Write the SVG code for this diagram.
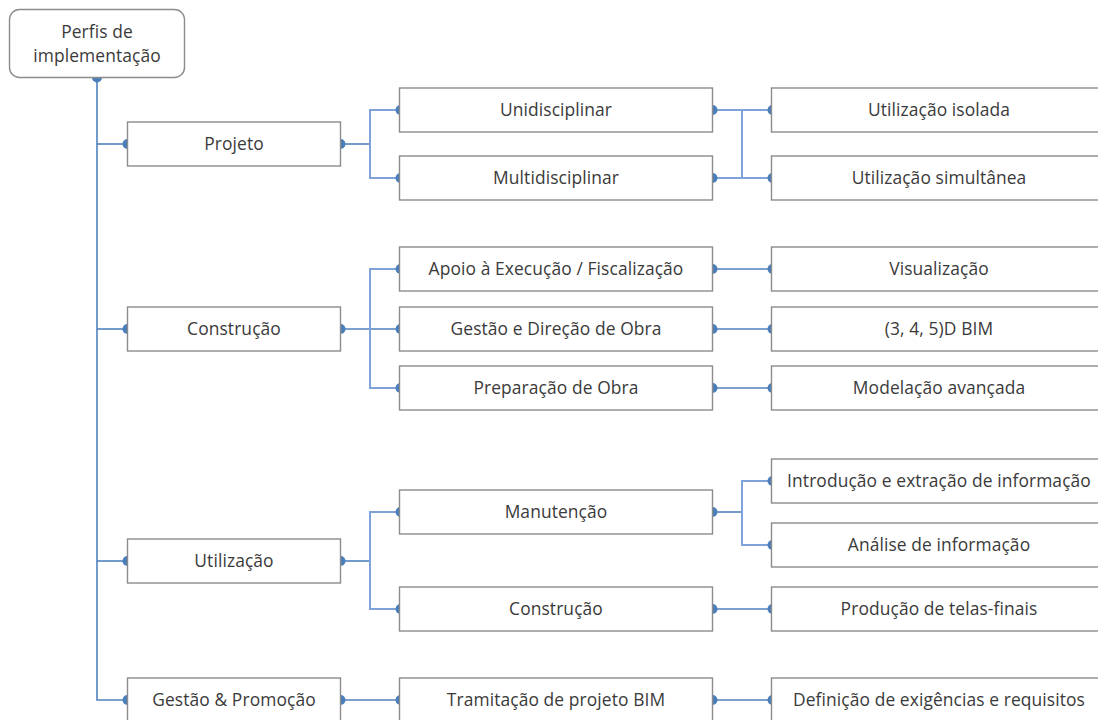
<svg xmlns="http://www.w3.org/2000/svg" width="1098" height="720" viewBox="0 0 1098 720">
<style>
.box{fill:#fff;stroke:#8c8c8c;stroke-width:1.4}
.t{font-family:"Open Sans","Liberation Sans",sans-serif;font-size:17.4px;letter-spacing:0.1px;fill:#3a3a3a;text-anchor:middle}
.stem{stroke:#4f81bd;stroke-width:1.6;fill:none}
.br{stroke:#7fa3d8;stroke-width:2;fill:none}
.dot{fill:#4a7ebb}
</style>
<defs>
<path id="dl" d="M0.5 -5 A5 5 0 0 0 0.5 5 Z"/>
<path id="dr" d="M-0.5 -5 A5 5 0 0 1 -0.5 5 Z"/>
<path id="dd" d="M-5 -0.5 A5 5 0 0 0 5 -0.5 Z"/>
</defs>
<g id="connectors">
<polyline class="stem" points="97,78 97,700 127,700"/>
<line class="stem" x1="97" y1="144" x2="127" y2="144"/>
<line class="stem" x1="97" y1="329" x2="127" y2="329"/>
<line class="stem" x1="97" y1="561" x2="127" y2="561"/>
<line class="stem" x1="341" y1="144" x2="370" y2="144"/>
<polyline class="br" points="400,110 370,110 370,178 400,178"/>
<line class="br" x1="713" y1="110" x2="772" y2="110"/>
<line class="br" x1="713" y1="178" x2="772" y2="178"/>
<line class="br" x1="742" y1="110" x2="742" y2="178"/>
<line class="stem" x1="341" y1="329" x2="400" y2="329"/>
<polyline class="br" points="400,269 370,269 370,388 400,388"/>
<line class="stem" x1="713" y1="269" x2="772" y2="269"/>
<line class="stem" x1="713" y1="329" x2="772" y2="329"/>
<line class="stem" x1="713" y1="388" x2="772" y2="388"/>
<line class="stem" x1="341" y1="561" x2="370" y2="561"/>
<polyline class="br" points="400,512 370,512 370,609 400,609"/>
<line class="stem" x1="713" y1="512" x2="742" y2="512"/>
<polyline class="br" points="772,481 742,481 742,545 772,545"/>
<line class="stem" x1="713" y1="609" x2="772" y2="609"/>
<line class="stem" x1="341" y1="700" x2="400" y2="700"/>
<line class="stem" x1="713" y1="700" x2="772" y2="700"/>
<g class="dot">
<use href="#dd" x="97" y="78"/>
<use href="#dl" x="127" y="144"/><use href="#dl" x="127" y="329"/><use href="#dl" x="127" y="561"/><use href="#dl" x="127" y="700"/>
<use href="#dr" x="341" y="144"/><use href="#dr" x="341" y="329"/><use href="#dr" x="341" y="561"/><use href="#dr" x="341" y="700"/>
<use href="#dl" x="400" y="110"/><use href="#dl" x="400" y="178"/><use href="#dl" x="400" y="269"/><use href="#dl" x="400" y="329"/><use href="#dl" x="400" y="388"/><use href="#dl" x="400" y="512"/><use href="#dl" x="400" y="609"/><use href="#dl" x="400" y="700"/>
<use href="#dr" x="713" y="110"/><use href="#dr" x="713" y="178"/><use href="#dr" x="713" y="269"/><use href="#dr" x="713" y="329"/><use href="#dr" x="713" y="388"/><use href="#dr" x="713" y="512"/><use href="#dr" x="713" y="609"/><use href="#dr" x="713" y="700"/>
<use href="#dl" x="772" y="110"/><use href="#dl" x="772" y="178"/><use href="#dl" x="772" y="269"/><use href="#dl" x="772" y="329"/><use href="#dl" x="772" y="388"/><use href="#dl" x="772" y="481"/><use href="#dl" x="772" y="545"/><use href="#dl" x="772" y="609"/><use href="#dl" x="772" y="700"/>
</g>
</g>
<g id="root"><rect class="box" x="9.5" y="9.5" width="175" height="68" rx="10"/><text class="t" x="97" y="38">Perfis de</text><text class="t" x="97" y="62">implementação</text></g>
<g id="projeto"><rect class="box" x="127.5" y="122" width="213" height="44"/><text class="t" x="234" y="150">Projeto</text></g>
<g id="construcao"><rect class="box" x="127.5" y="307" width="213" height="44"/><text class="t" x="234" y="335">Construção</text></g>
<g id="utilizacao"><rect class="box" x="127.5" y="539" width="213" height="44"/><text class="t" x="234" y="567">Utilização</text></g>
<g id="gestao"><rect class="box" x="127.5" y="678" width="213" height="44"/><text class="t" x="234" y="706">Gestão &amp; Promoção</text></g>
<g id="unidisciplinar"><rect class="box" x="399.5" y="88" width="313" height="44"/><text class="t" x="556" y="116">Unidisciplinar</text></g>
<g id="multidisciplinar"><rect class="box" x="399.5" y="156" width="313" height="44"/><text class="t" x="556" y="184">Multidisciplinar</text></g>
<g id="apoio"><rect class="box" x="399.5" y="247" width="313" height="44"/><text class="t" x="556" y="275">Apoio à Execução / Fiscalização</text></g>
<g id="gestao-direcao"><rect class="box" x="399.5" y="307" width="313" height="44"/><text class="t" x="556" y="335">Gestão e Direção de Obra</text></g>
<g id="preparacao"><rect class="box" x="399.5" y="366" width="313" height="44"/><text class="t" x="556" y="394">Preparação de Obra</text></g>
<g id="manutencao"><rect class="box" x="399.5" y="490" width="313" height="44"/><text class="t" x="556" y="518">Manutenção</text></g>
<g id="construcao2"><rect class="box" x="399.5" y="587" width="313" height="44"/><text class="t" x="556" y="615">Construção</text></g>
<g id="tramitacao"><rect class="box" x="399.5" y="678" width="313" height="44"/><text class="t" x="556" y="706">Tramitação de projeto BIM</text></g>
<g id="isolada"><rect class="box" x="771.5" y="88" width="340" height="44"/><text class="t" x="939" y="116">Utilização isolada</text></g>
<g id="simultanea"><rect class="box" x="771.5" y="156" width="340" height="44"/><text class="t" x="939" y="184">Utilização simultânea</text></g>
<g id="visualizacao"><rect class="box" x="771.5" y="247" width="340" height="44"/><text class="t" x="939" y="275">Visualização</text></g>
<g id="bim345"><rect class="box" x="771.5" y="307" width="340" height="44"/><text class="t" x="939" y="335">(3, 4, 5)D BIM</text></g>
<g id="modelacao"><rect class="box" x="771.5" y="366" width="340" height="44"/><text class="t" x="939" y="394">Modelação avançada</text></g>
<g id="introducao"><rect class="box" x="771.5" y="459" width="340" height="44"/><text class="t" x="939" y="487">Introdução e extração de informação</text></g>
<g id="analise"><rect class="box" x="771.5" y="523" width="340" height="44"/><text class="t" x="939" y="551">Análise de informação</text></g>
<g id="telas"><rect class="box" x="771.5" y="587" width="340" height="44"/><text class="t" x="939" y="615">Produção de telas-finais</text></g>
<g id="definicao"><rect class="box" x="771.5" y="678" width="340" height="44"/><text class="t" x="939" y="706">Definição de exigências e requisitos</text></g>
</svg>
